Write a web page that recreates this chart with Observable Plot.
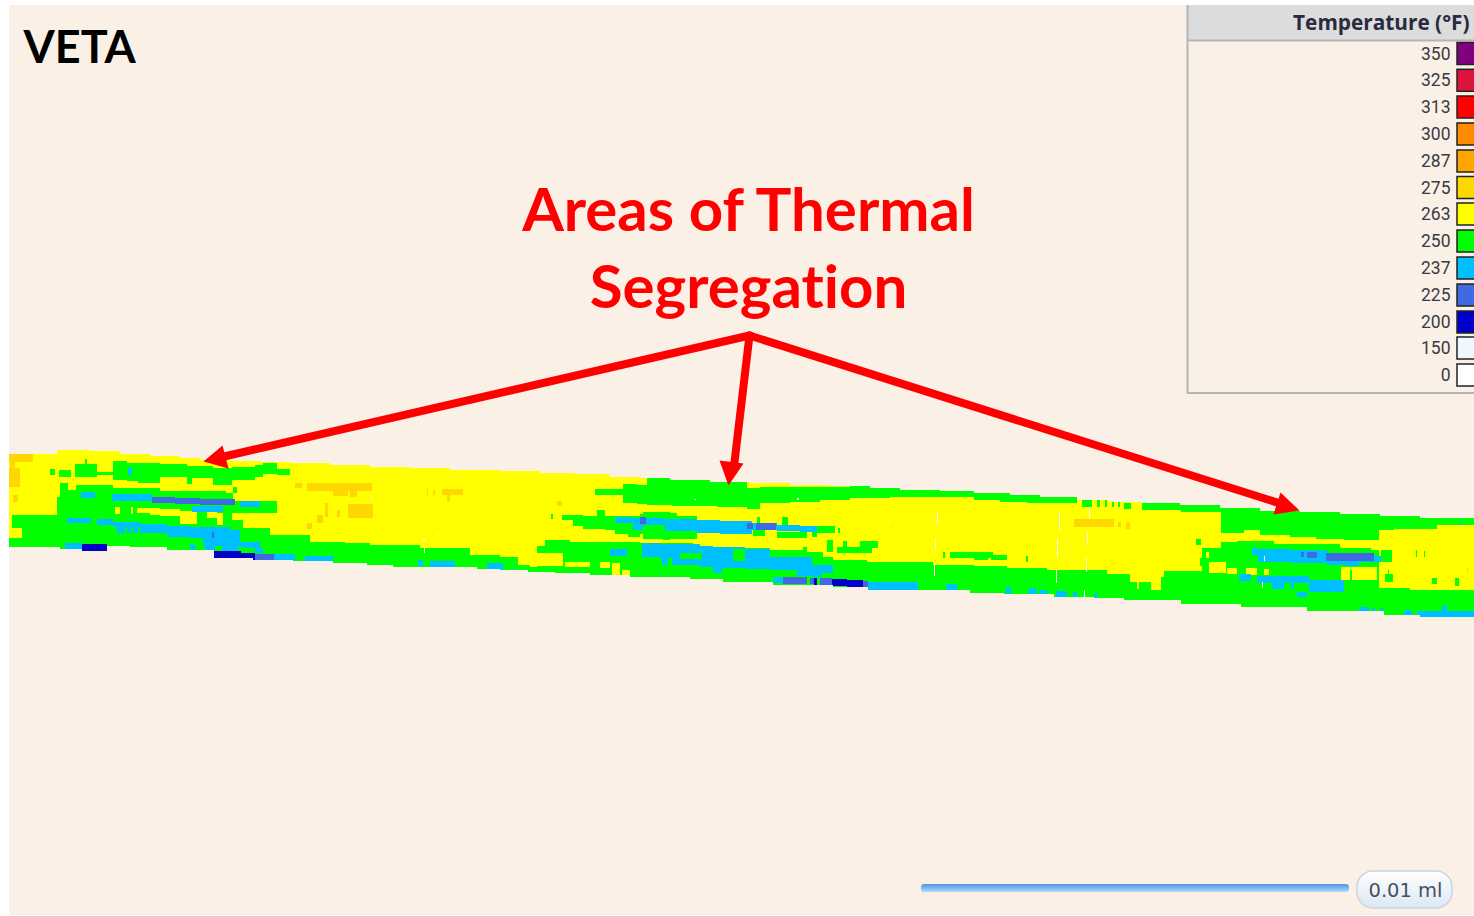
<!DOCTYPE html>
<html><head><meta charset="utf-8">
<script src="https://cdn.jsdelivr.net/npm/d3@7"></script>
<script src="https://cdn.jsdelivr.net/npm/@observablehq/plot@0.6"></script>
<style>html,body{margin:0;padding:0;background:#fff;overflow:hidden}svg{display:block}svg text{font-variant-ligatures:none}</style>
</head><body><div id="chart"></div>
<script>
const LINEN="#faf0e6";
// legend
const legendTemps=[350,325,313,300,287,275,263,250,237,225,200,150,0];
const legendColors=["#800080","#dc143c","#ff0000","#ff8c00","#ffa500","#ffd700","#ffff00","#00ff00","#00bfff","#4169e1","#0000c8","#f0f8ff","#ffffff"];
const legendRowY=[53.5,80.3,107,134,161,187.5,214,241,268,295,322,348,375];
// mat outline
const bandTop=[[9,454],[40,454],[57,450],[90,451],[120,454],[150,456],[180,458],[200,460],[230,461],[260,462],[290,463],[330,465],[370,467],[410,468],[450,470],[500,471],[540,473],[575,474],[610,477],[640,478],[670,480],[710,482],[750,483],[790,485],[830,486],[870,488],[900,490],[940,491],[974,493],[1010,495],[1040,497],[1077,500],[1110,502],[1142,503],[1180,505],[1220,508],[1260,511],[1300,512],[1340,514],[1380,516],[1420,518],[1474,520]];
const bandBottom=[[9,547],[40,547],[60,549],[82,551],[107,546],[130,547],[167,550],[190,550],[214,558],[253,560],[293,561],[333,563],[367,565],[393,567],[453,567],[477,569],[500,570],[528,572],[555,573],[590,575],[630,577],[690,579],[723,582],[773,585],[833,587],[868,590],[910,590],[970,593],[1004,594],[1054,597],[1094,598],[1124,600],[1181,604],[1241,607],[1307,611],[1384,615],[1420,617],[1474,618]];
// 250 F main body: [x, top of green]
const green250Lower=[[9,538],[12,515],[57,497],[60,483],[68,490],[76,485],[113,488],[160,491],[226,493],[233,501],[270,535],[310,542],[345,543],[370,545],[420,548],[470,555],[500,557],[518,565],[530,567],[537,546],[545,540],[570,542],[640,543],[693,547],[730,548],[770,550],[803,547],[807,552],[823,557],[833,560],[867,562],[933,565],[974,566],[1007,568],[1047,570],[1107,574],[1130,582],[1137,589],[1139,582],[1151,590],[1161,577],[1164,571],[1202,548],[1221,542],[1237,541],[1274,544],[1340,548],[1371,550],[1379,588],[1410,590],[1474,593]];
// 250 F streaks: runs of [x, y1, y2]
const green250Upper=[
 [[75,464,477],[97,472,475],[113,461,480],[127,463,481],[138,463,483],[160,464,477],[187,466,484],[192,466,478],[213,468,485],[232,467,480],[255,465,477],[263,463,474],[277,469,475],[290,469,475]],
 [[595,489,495],[623,484,503],[637,485,504],[647,478,505],[672,480,506],[717,482,507],[747,488,509],[760,487,503],[790,487,502],[820,487,500],[850,480,498],[890,480,497],[937,480,497],[974,480,500],[1000,480,502],[1027,480,503],[1077,480,481],[1142,480,510],[1181,480,512],[1221,480,533],[1244,480,530],[1260,480,535],[1290,480,537],[1316,480,539],[1344,480,540],[1379,480,530],[1394,480,529],[1437,480,525],[1474,480,527]],
 [[562,515,520],[573,515,526],[583,516,529],[597,510,529],[605,516,530],[615,516,534],[628,516,537],[640,514,534],[643,512,539],[663,512,540],[670,513,539],[677,516,539],[697,516,530]]
];
const yellow263Holes=[[9,22,528,538],[137,150,508,513],[150,160,508,515],[160,180,509,520],[180,197,511,524],[207,217,512,518],[217,223,513,525],[232,243,513,520],[243,270,513,528],[115,120,507,514],[131,133,507,514],[537,563,553,566],[565,590,562,567],[600,610,562,568],[612,620,563,575],[622,630,570,577],[1209,1226,562,573],[1227,1237,568,574],[1246,1257,568,575],[1264,1269,569,575],[1341,1377,567,580],[1221,1244,515,520],[1249,1259,515,522],[1206,1209,552,558],[1232,1242,529,533],[1250,1258,527,535]];
const green250Blocks=[[50,55,469,475],[59,71,470,477],[85,87,459,466],[233,237,487,493],[260,277,501,513],[223,257,507,513],[160,180,516,523],[551,553,514,519],[537,539,546,552],[643,697,525,539],[753,765,530,536],[777,807,532,538],[812,817,532,537],[757,760,517,523],[782,788,517,525],[817,835,526,533],[838,840,528,533],[827,833,540,552],[843,847,541,547],[837,872,547,553],[860,878,541,548],[974,988,553,560],[991,1007,555,560],[1026,1028,556,562],[950,993,552,558],[943,945,552,558],[1196,1201,539,545],[1200,1202,558,566],[1381,1392,550,562],[1385,1393,574,582],[1432,1437,578,584],[1455,1459,578,586],[1416,1417,550,557],[1424,1425,551,557],[1388,1389,570,575],[1082,1092,500,507],[1097,1100,500,507],[1105,1107,500,507],[1112,1114,501,507],[1118,1120,502,507],[1124,1131,503,509],[1350,1352,570,580]];
const gold275=[[9,33,454,462],[10,15,462,468],[9,20,468,487],[13,18,495,502],[295,302,483,488],[307,372,483,491],[333,348,491,496],[350,357,491,497],[348,373,504,518],[325,328,503,517],[337,340,510,517],[317,323,515,523],[307,312,523,529],[427,428,488,495],[433,435,490,495],[442,463,489,495],[447,450,495,502],[557,562,501,506],[1074,1114,519,527],[1118,1121,522,527],[1126,1130,522,529],[1467,1468,567,572]];
// 237 F
const blue237Runs=[
 [[140,524,533],[167,526,537],[190,527,538],[203,527,550],[210,527,552],[230,530,552],[240,542,548],[260,542,548]],
 [[615,517,523],[633,518,530],[643,518,525],[663,519,531],[697,520,533],[720,521,534],[752,523,530],[777,525,531],[800,526,532],[817,526,532]],
 [[642,543,557],[660,544,565],[700,546,567],[713,547,573],[722,547,568],[745,549,569],[770,557,570],[797,557,576],[812,565,577],[822,565,573],[833,565,573]],
 [[1252,548,555],[1258,549,562],[1291,550,563],[1327,553,565],[1347,554,566],[1359,556,562],[1381,556,562]]
];
const blue237Blocks=[[81,95,492,498],[112,152,494,501],[192,223,506,512],[240,260,501,507],[67,91,518,523],[97,113,519,525],[113,140,522,527],[117,125,527,533],[127,131,527,533],[133,138,527,533],[65,82,543,549],[190,195,544,550],[255,263,548,553],[273,295,554,561],[305,333,556,563],[418,423,560,566],[430,455,561,567],[487,500,563,570],[500,503,563,570],[513,514,565,570],[128,132,468,475],[610,627,549,556],[773,783,577,583],[868,918,582,590],[946,957,584,591],[1006,1011,587,594],[1029,1036,588,595],[1039,1047,590,596],[1056,1067,591,597],[1073,1077,592,597],[1094,1097,593,598],[1239,1251,574,581],[1257,1309,576,583],[1272,1284,583,589],[1309,1344,580,592],[1297,1307,592,597],[1291,1294,583,589],[1359,1369,607,613],[1372,1375,608,613],[1380,1383,608,613],[1404,1412,610,615],[1417,1474,611,618],[1442,1447,606,612],[1460,1461,520,525]];
const green250Over=[[215,222,546,551],[197,205,546,551],[238,245,547,552],[680,702,553,559],[733,745,549,561],[662,665,525,531],[659,662,558,565],[668,672,558,565],[257,258,507,513]];
// 225 F and 200 F
const blue225=[[152,175,497,503],[175,200,498,504],[200,235,499,505],[212,214,532,538],[255,274,554,560],[640,646,517,524],[747,753,523,529],[756,776,523,530],[783,807,577,584],[810,814,578,584],[820,832,578,585],[863,868,581,587],[1301,1304,552,557],[1307,1317,552,558],[1326,1374,553,561]];
const blue200=[[82,107,544,551],[214,241,551,558],[241,255,553,560],[814,817,578,585],[832,847,579,586],[847,863,580,587]];
// thin empty cells
const gapCells=[[1059,1060,512,530],[1089,1090,507,518],[1087,1088,532,545],[1057,1058,538,557],[1086,1087,558,572],[1056,1057,570,583],[1084,1085,590,598],[1264,1265,556,561],[1262,1263,582,588],[937,938,512,523],[935,936,538,549],[934,935,564,576],[424,425,547,553],[371,372,497,499],[438,439,534,536],[423,425,539,541],[694,696,499,500],[797,799,498,500],[888,890,521,522]];
// annotation
const arrowShafts=[[[749,335],[215,458]],[[749,335],[733,470]],[[749,335],[1283,504]]];
const arrowHeads=[[[203,461],[222,445],[228,468]],[[728,485],[719,460],[743,463]],[[1299,510],[1280,492],[1273,514]]];
const scaleBar=[921,1349,884,892];
const scalePill=[1357,1452,871,908];

const blocks=(a,fill)=>Plot.rect(a,{x1:d=>d[0],x2:d=>d[1],y1:d=>d[2],y2:d=>d[3],fill});
const runs=(a,fill)=>Plot.areaY(a.flatMap((r,i)=>r.map(p=>({x:p[0],y1:p[1],y2:p[2],z:i}))),{x:"x",y1:"y1",y2:"y2",z:"z",fill,curve:"step-after"});
const defs=()=>{
  const s=d3.create("svg:defs");
  const g1=s.append("linearGradient").attr("id","barG").attr("x1",0).attr("x2",0).attr("y1",0).attr("y2",1);
  [[0,"#5b94d6"],[.45,"#74b4f4"],[1,"#b7d9f6"]].forEach(([o,c])=>g1.append("stop").attr("offset",o).attr("stop-color",c));
  const g2=s.append("linearGradient").attr("id","pillG").attr("x1",0).attr("x2",0).attr("y1",0).attr("y2",1);
  [[0,"#ffffff"],[1,"#dce7f4"]].forEach(([o,c])=>g2.append("stop").attr("offset",o).attr("stop-color",c));
  return s.node();
};
const chart=Plot.plot({
  width:1474,height:916,margin:0,
  x:{type:"linear",domain:[0,1474],range:[0,1474],axis:null},
  y:{type:"linear",domain:[0,916],range:[0,916],axis:null},
  style:{background:"#fff",overflow:"hidden"},
  marks:[
    defs,
    Plot.rect([[9,1474,5,915]],{x1:d=>d[0],x2:d=>d[1],y1:d=>d[2],y2:d=>d[3],fill:LINEN}),
    // mat
    Plot.rect([[9,1474,445,625]],{x1:d=>d[0],x2:d=>d[1],y1:d=>d[2],y2:d=>d[3],fill:"#ffff00"}),
    blocks(gold275,"#ffd700"),
    Plot.areaY(green250Lower,{x:d=>d[0],y1:d=>d[1],y2:()=>625,fill:"#00ff00",curve:"step-after"}),
    blocks(yellow263Holes,"#ffff00"),
    runs(green250Upper,"#00ff00"),
    blocks(green250Blocks,"#00ff00"),
    runs(blue237Runs,"#00bfff"),
    blocks(blue237Blocks,"#00bfff"),
    blocks(green250Over,"#00ff00"),
    blocks(blue225,"#4169e1"),
    blocks(blue200,"#0000c8"),
    blocks(gapCells,"#fff8f0"),
    Plot.areaY(bandTop,{x:d=>d[0],y1:()=>440,y2:d=>d[1],fill:LINEN,curve:"step-after"}),
    Plot.areaY(bandBottom,{x:d=>d[0],y1:d=>d[1],y2:()=>630,fill:LINEN,curve:"step-after"}),
    // legend
    Plot.rect([[1187,1474,5,40]],{x1:d=>d[0],x2:d=>d[1],y1:d=>d[2],y2:d=>d[3],fill:"#dcdcdc"}),
    Plot.ruleX([1187],{y1:5,y2:393,stroke:"#b4b4b4",strokeWidth:2}),
    Plot.ruleY([40,392.5],{x1:1187,x2:1474,stroke:"#b4b4b4",strokeWidth:2}),
    Plot.text(["Temperature (°F)"],{x:1469,y:23,text:d=>d,textAnchor:"end",fontFamily:"Open Sans",fontWeight:700,fontSize:20.8,fill:"#2a2a40"}),
    Plot.rect(legendTemps,{x1:()=>1457,x2:()=>1482,y1:(d,i)=>legendRowY[i]-11,y2:(d,i)=>legendRowY[i]+11,fill:(d,i)=>legendColors[i],stroke:"#222",strokeWidth:1.5}),
    Plot.text(legendTemps,{x:()=>1450,y:(d,i)=>legendRowY[i],text:d=>String(d),textAnchor:"end",fontFamily:"Roboto",fontSize:17.5,fill:"#3a3a44"}),
    // titles
    Plot.text(["VETA"],{x:23,y:48,text:d=>d,textAnchor:"start",fontFamily:"Lato",fontWeight:700,fontSize:45,fill:"#000"}),
    Plot.text(["Areas of Thermal","Segregation"],{x:()=>748,y:(d,i)=>[211,288][i],text:d=>d,textAnchor:"middle",fontFamily:"Lato",fontWeight:700,fontSize:60,fill:"#ff0000"}),
    // arrows
    Plot.line(arrowShafts.flatMap((a,i)=>a.map(p=>({x:p[0],y:p[1],z:i}))),{x:"x",y:"y",z:"z",stroke:"#ff0000",strokeWidth:8,strokeLinecap:"round"}),
    Plot.line(arrowHeads.flatMap((a,i)=>a.map(p=>({x:p[0],y:p[1],z:i}))),{x:"x",y:"y",z:"z",stroke:"none",fill:"#ff0000"}),
    // scale
    Plot.rect([scaleBar],{x1:d=>d[0],x2:d=>d[1],y1:d=>d[2],y2:d=>d[3],fill:"url(#barG)",rx:3}),
    Plot.rect([scalePill],{x1:d=>d[0],x2:d=>d[1],y1:d=>d[2],y2:d=>d[3],fill:"url(#pillG)",stroke:"#c6d4e6",strokeWidth:1.5,rx:16}),
    Plot.text(["0.01 ml"],{x:1405,y:890,text:d=>d,textAnchor:"middle",fontFamily:"DejaVu Sans",fontSize:19.5,fill:"#46505f"})
  ]
});
document.getElementById("chart").appendChild(chart);
</script></body></html>
